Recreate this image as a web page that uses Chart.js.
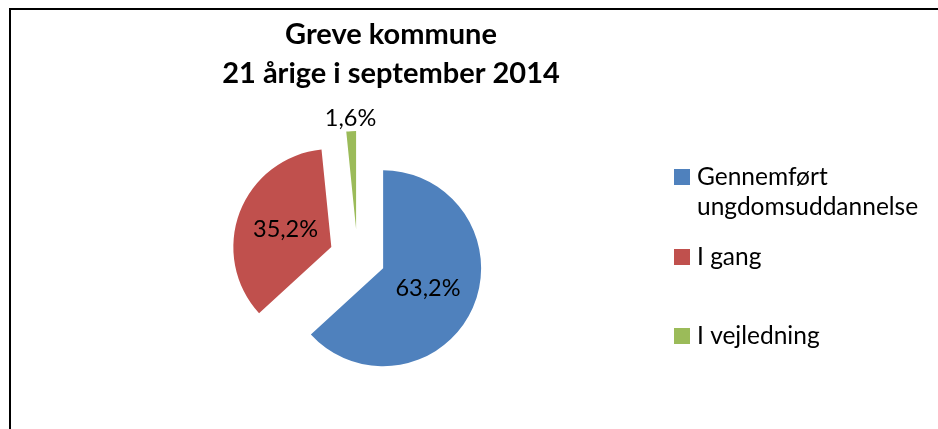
<!DOCTYPE html>
<html>
<head>
<meta charset="utf-8">
<script src="https://cdn.jsdelivr.net/npm/chart.js@4.4.0/dist/chart.umd.min.js"></script>
<style>
html, body { margin: 0; padding: 0; background: #fff; }
#wrap { position: relative; width: 938px; height: 429px; }
</style>
</head>
<body>
<div id="wrap"><canvas id="pieChart"></canvas></div>
<script>
const titleLines = ['Greve kommune', '21 årige i september 2014'];
const categories = ['Gennemført ungdomsuddannelse', 'I gang', 'I vejledning'];
const legendLines = [['Gennemført', 'ungdomsuddannelse'], ['I gang'], ['I vejledning']];
const shares = [63.2, 35.2, 1.6];
const sliceColors = ['#4F81BD', '#C0504D', '#9BBB59'];

const EXPLODE = 28;
const FONT = 'Lato, "Open Sans", sans-serif';

// push every slice out from the centre along its middle angle
const explodePlugin = {
    id: 'explode',
    afterDatasetUpdate(chart, args) {
        args.meta.data.forEach(arc => {
            const mid = (arc.startAngle + arc.endAngle) / 2;
            arc.x += Math.cos(mid) * EXPLODE;
            arc.y += Math.sin(mid) * EXPLODE;
        });
    }
};

// frame, title, slice labels and legend
const decorPlugin = {
    id: 'decor',
    afterDraw(chart) {
        const ctx = chart.ctx;
        ctx.save();
        ctx.fillStyle = '#000';
        ctx.fillRect(9, 8, 929, 2);
        ctx.fillRect(9, 8, 2, 421);

        ctx.textAlign = 'center';
        ctx.textBaseline = 'alphabetic';
        ctx.font = 'bold 29px ' + FONT;
        ctx.fillText(titleLines[0], 391, 44);
        ctx.fillText(titleLines[1], 391, 83);

        const meta = chart.getDatasetMeta(0);
        ctx.font = '23.5px ' + FONT;
        ctx.textBaseline = 'middle';
        meta.data.forEach((arc, i) => {
            const mid = (arc.startAngle + arc.endAngle) / 2;
            const r = shares[i] < 5 ? arc.outerRadius + 13 : arc.outerRadius * 0.5;
            const txt = shares[i].toFixed(1).replace('.', ',') + '%';
            ctx.fillText(txt, arc.x + Math.cos(mid) * r, arc.y + Math.sin(mid) * r);
        });

        const baselines = [185, 265, 344];
        ctx.textAlign = 'left';
        ctx.textBaseline = 'alphabetic';
        ctx.font = '24.5px ' + FONT;
        legendLines.forEach((lines, i) => {
            ctx.fillStyle = sliceColors[i];
            ctx.fillRect(674, baselines[i] - 16, 16, 16);
            ctx.fillStyle = '#000';
            lines.forEach((line, j) => ctx.fillText(line, 697, baselines[i] + j * 30));
        });
        ctx.restore();
    }
};

const renderPie = () => {
    const ctx = document.getElementById('pieChart').getContext('2d');
    new Chart(ctx, {
        type: 'pie',
        data: {
            labels: categories,
            datasets: [{
                data: shares,
                backgroundColor: sliceColors,
                borderWidth: 0,
                radius: 98,
            }],
        },
        options: {
            responsive: true,
            maintainAspectRatio: false,
            animation: false,
            events: [],
            layout: { padding: { left: 0, right: 223, top: 85, bottom: 0 } },
            plugins: {
                legend: { display: false },
                title: { display: false },
                tooltip: { enabled: false },
            },
        },
        plugins: [explodePlugin, decorPlugin],
    });
};

window.addEventListener('load', renderPie);
</script>
</body>
</html>
